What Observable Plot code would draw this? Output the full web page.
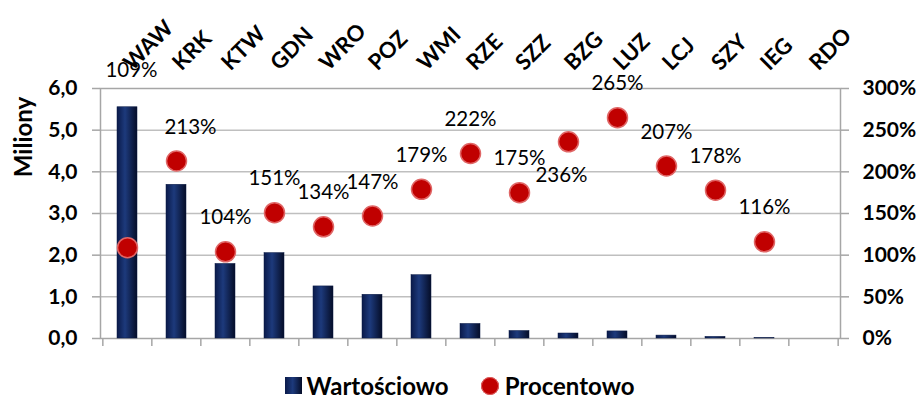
<!DOCTYPE html>
<html>
<head>
<meta charset="utf-8">
<script src="https://cdn.jsdelivr.net/npm/d3@7"></script>
<script src="https://cdn.jsdelivr.net/npm/@observablehq/plot@0.6"></script>
<style>
  html, body { margin: 0; padding: 0; background: #fff; width: 920px; height: 401px; overflow: hidden; font-family: Lato, sans-serif; }
  #legend { display: flex; justify-content: center; align-items: center; height: 31px; gap: 0; font-weight: bold; font-size: 24px; color: #000; }
  .sw-sq { width: 17px; height: 17px; background: linear-gradient(90deg, #0a1a4a 0%, #1d3a7c 45%, #050d28 100%); margin-right: 4px; }
  .sw-ci { width: 18px; height: 18px; border-radius: 50%; background: #c00000; box-shadow: 0 0 0 1px #e06666 inset; margin-left: 32px; margin-right: 6px; }
</style>
</head>
<body>
<div id="chart"></div>
<div id="legend">
  <div class="sw-sq"></div><span>Wartościowo</span>
  <div class="sw-ci"></div><span>Procentowo</span>
</div>
<script>
const categories = ["WAW","KRK","KTW","GDN","WRO","POZ","WMI","RZE","SZZ","BZG","LUZ","LCJ","SZY","IEG","RDO"];
const wartosciowo = [5.55,3.69,1.79,2.05,1.25,1.05,1.52,0.35,0.18,0.12,0.17,0.07,0.04,0.01,0];
const procentowo = [109,213,104,151,134,147,179,222,175,236,265,207,178,116,null];
const leftTicks = [0,1,2,3,4,5,6];
const rightTickLabels = ["0%","50%","100%","150%","200%","250%","300%"];
const yTitle = "Miliony";

const rows = categories.map((c, i) => ({cat: c, val: wartosciowo[i], pct: procentowo[i]}));
const pts = rows.filter(d => d.pct != null);
const PCT_PER_UNIT = 50; // 300% on the right axis = 6,0 on the left axis

const W = 920, H = 370, mL = 100, mR = 80, mT = 88, mB = 32;
const step = (W - mL - mR) / categories.length;
const grid = "#bfbfbf", axisCol = "#a6a6a6";

const normal = pts.filter(d => !["WAW","BZG","KRK"].includes(d.cat));

const svg = Plot.plot({
  width: W, height: H,
  marginLeft: mL, marginRight: mR, marginTop: mT, marginBottom: mB,
  style: {fontFamily: "Lato, sans-serif", color: "#000", background: "#fff", overflow: "visible"},
  x: {type: "band", domain: categories, paddingInner: 0.6, paddingOuter: 0.3, axis: null},
  y: {domain: [0, 6], axis: null},
  marks: [
    Plot.gridY([1,2,3,4,5], {stroke: grid, strokeOpacity: 1, strokeWidth: 1.5}),
    Plot.frame({stroke: axisCol, strokeWidth: 1.5}),
    Plot.barY(rows, {x: "cat", y: "val", fill: "url(#barGrad)", stroke: "#0a1a45", strokeWidth: 0.5}),
    Plot.dot(pts, {x: "cat", y: d => d.pct / PCT_PER_UNIT, r: 10, fill: "#c00000", stroke: "#e06666", strokeWidth: 1.5}),
    Plot.text(normal, {x: "cat", y: d => d.pct / PCT_PER_UNIT, text: d => d.pct + "%", dy: -34, fontSize: 20.5}),
    Plot.text(pts.filter(d => d.cat === "KRK"), {x: "cat", y: d => d.pct / PCT_PER_UNIT, text: d => d.pct + "%", dy: -34, dx: 14, fontSize: 20.5}),
    Plot.text(pts.filter(d => d.cat === "BZG"), {x: "cat", y: d => d.pct / PCT_PER_UNIT, text: d => d.pct + "%", dy: 34, dx: -7, fontSize: 20.5}),
    Plot.text(pts.filter(d => d.cat === "WAW"), {x: "cat", y: "val", text: d => d.pct + "%", dy: -37, dx: 4, fontSize: 20.5}),
    Plot.axisY({anchor: "left", ticks: leftTicks, tickSize: 8, tickPadding: 15, tickFormat: d => d.toFixed(1).replace(".", ","), fontSize: 21, fontWeight: "bold", stroke: axisCol, strokeWidth: 1.5, label: null}),
    Plot.axisY({anchor: "right", ticks: leftTicks, tickSize: 8, tickPadding: 14, tickFormat: (d, i) => rightTickLabels[leftTicks.indexOf(d)], fontSize: 21, fontWeight: "bold", stroke: axisCol, strokeWidth: 1.5, label: null}),
    Plot.axisX({anchor: "top", tickSize: 0, tickPadding: 22, tickRotate: -45, fontSize: 22, fontWeight: "bold", label: null}),
    Plot.axisX({anchor: "bottom", tickSize: 8, tickFormat: () => "", dx: -step / 2, stroke: axisCol, strokeWidth: 1.5, label: null}),
    Plot.axisX({anchor: "bottom", ticks: ["RDO"], tickSize: 8, tickFormat: () => "", dx: step / 2, stroke: axisCol, strokeWidth: 1.5, label: null})
  ]
});

const s = d3.select(svg);
const defs = s.insert("defs", ":first-child");
const g = defs.append("linearGradient").attr("id", "barGrad").attr("x1", "0").attr("x2", "1").attr("y1", "0").attr("y2", "0");
g.append("stop").attr("offset", "0%").attr("stop-color", "#0a1a4a");
g.append("stop").attr("offset", "40%").attr("stop-color", "#1d3a7c");
g.append("stop").attr("offset", "100%").attr("stop-color", "#050d28");

s.append("text")
  .attr("transform", "translate(32,137) rotate(-90)")
  .attr("text-anchor", "middle")
  .attr("font-weight", "bold")
  .attr("font-size", 24)
  .attr("fill", "#000")
  .text(yTitle);

document.getElementById("chart").appendChild(svg);
</script>
</body>
</html>
